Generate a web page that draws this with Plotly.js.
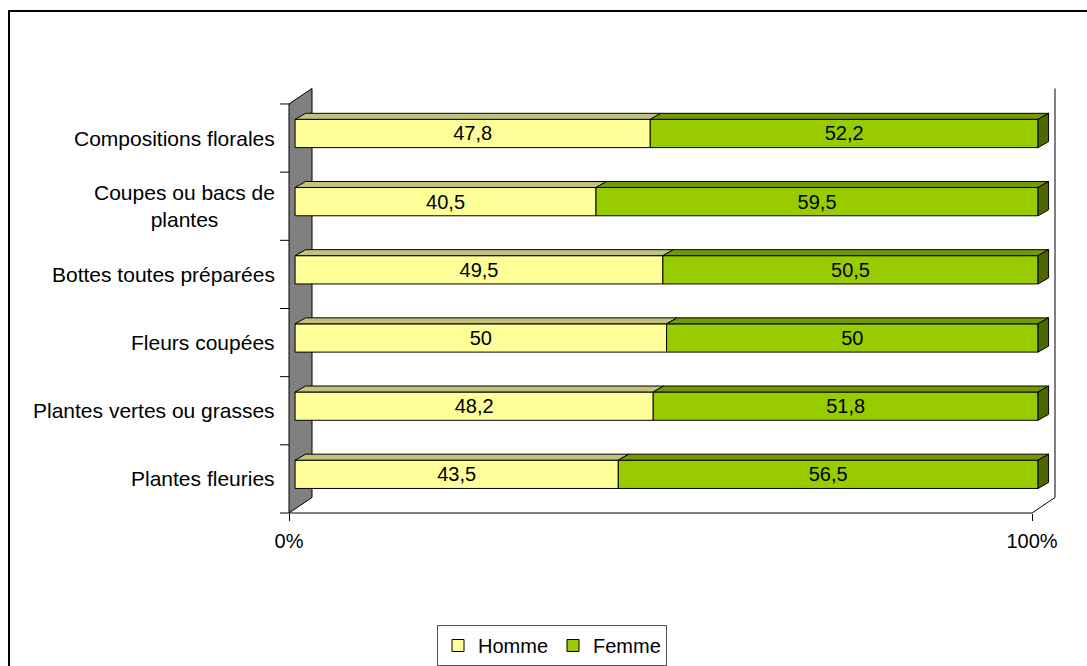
<!DOCTYPE html>
<html>
<head>
<meta charset="utf-8">
<script src="https://cdn.plot.ly/plotly-3.0.1.min.js"></script>
<style>
html,body{margin:0;padding:0;background:#fff;}
#chart{width:1087px;height:666px;}
</style>
</head>
<body>
<div id="chart"></div>
<script>
// ---- data ----
const categories = ['Plantes fleuries', 'Plantes vertes ou grasses', 'Fleurs coupées',
  'Bottes toutes préparées', 'Coupes ou bacs de<br>plantes', 'Compositions florales'];
const homme = [43.5, 48.2, 50, 49.5, 40.5, 47.8];
const femme = [56.5, 51.8, 50, 50.5, 59.5, 52.2];
const seriesNames = ['Homme', 'Femme'];
const xTickVals = [0, 100];
const xTickText = ['0%', '100%'];

// ---- geometry / style ----
const W = 1087, H = 666;
const X0PX = 289, Y0PX = 513;       // pixel position of the floor's front-left corner
const PADL = 14, PADB = 5;          // plot area extends a bit beyond the floor so edges are not clipped
const M = {l: X0PX - PADL, r: 31, t: 87, b: H - Y0PX - PADB, autoexpand: false};
const plotW = W - M.l - M.r, plotH = H - M.t - M.b;
const pxPerX = 7.43, pxPerY = 68.17;
const xMin = -PADL / pxPerX, yMin = -PADB / pxPerY;
const xMax = xMin + plotW / pxPerX, yMax = yMin + plotH / pxPerY;
const OFF = 0.82;          // bar front offset from floor front (x units)
const BAR_LO = 0.36, BAR_HI = 0.775;
const DDX = 10.5 / pxPerX, DDY = 6 / pxPerY;     // bar depth
const WDX = 23 / pxPerX, WDY = 15.5 / pxPerY;    // wall depth
const FONT = '"Liberation Sans", Arial, sans-serif';
const C_H = '#FFFF99', C_H_TOP = '#C2C27A';
const C_F = '#99CC00', C_F_TOP = '#739900', C_F_SIDE = '#4D6600';

const n = categories.length;
const yc = categories.map((c, i) => i + (BAR_LO + BAR_HI) / 2);
const bw = BAR_HI - BAR_LO;
const fmt = v => String(v).replace('.', ',');

const traces = [
  {
    type: 'bar', orientation: 'h', name: seriesNames[0],
    y: yc, x: homme, base: homme.map(() => OFF), width: bw,
    marker: {color: C_H, line: {color: '#000', width: 1}},
    text: homme.map(fmt), textposition: 'inside', insidetextanchor: 'middle',
    constraintext: 'none', textangle: 0,
    textfont: {family: FONT, size: 20, color: '#000'}, hoverinfo: 'skip'
  },
  {
    type: 'bar', orientation: 'h', name: seriesNames[1],
    y: yc, x: femme, base: homme.map(v => v + OFF), width: bw,
    marker: {color: C_F, line: {color: '#000', width: 1}},
    text: femme.map(fmt), textposition: 'inside', insidetextanchor: 'middle',
    constraintext: 'none', textangle: 0,
    textfont: {family: FONT, size: 20, color: '#000'}, hoverinfo: 'skip'
  }
];

const shapes = [];
const poly = pts => 'M' + pts.map(p => p[0] + ',' + p[1]).join(' L') + ' Z';
// back wall (left)
shapes.push({type: 'path', xref: 'x', yref: 'y', layer: 'below',
  path: poly([[0, 0], [0, n], [WDX, n + WDY], [WDX, WDY]]),
  fillcolor: '#808080', line: {color: '#000', width: 1}});
// floor front edge + right edges
shapes.push({type: 'path', xref: 'x', yref: 'y', layer: 'below',
  path: 'M0,0 L100,0 L' + (100 + WDX) + ',' + WDY + ' L' + (100 + WDX) + ',' + (n + WDY),
  line: {color: '#000', width: 1}});
// category separator ticks
for (let i = 0; i <= n; i++) {
  shapes.push({type: 'line', xref: 'x', yref: 'y', x0: -9 / pxPerX, x1: 0, y0: i, y1: i,
    line: {color: '#000', width: 1}});
}
// 3D faces of bars
categories.forEach((c, i) => {
  const top = i + BAR_HI, bot = i + BAR_LO;
  const segs = [[OFF, OFF + homme[i], C_H_TOP], [OFF + homme[i], OFF + homme[i] + femme[i], C_F_TOP]];
  segs.forEach(s => {
    shapes.push({type: 'path', xref: 'x', yref: 'y', layer: 'above',
      path: poly([[s[0], top], [s[1], top], [s[1] + DDX, top + DDY], [s[0] + DDX, top + DDY]]),
      fillcolor: s[2], line: {color: '#000', width: 1}});
  });
  const xe = OFF + homme[i] + femme[i];
  shapes.push({type: 'path', xref: 'x', yref: 'y', layer: 'above',
    path: poly([[xe, bot], [xe, top], [xe + DDX, top + DDY], [xe + DDX, bot + DDY]]),
    fillcolor: C_F_SIDE, line: {color: '#000', width: 1}});
});
// outer frame (left and top borders)
const px2x = px => (px - M.l) / plotW;
const py2y = py => (H - M.b - py) / plotH;
shapes.push({type: 'path', xref: 'paper', yref: 'paper', layer: 'above',
  path: 'M' + px2x(9) + ',' + py2y(700) + ' L' + px2x(9) + ',' + py2y(11) + ' L' + px2x(1100) + ',' + py2y(11),
  line: {color: '#000', width: 2}});

const annotations = categories.map((c, i) => ({
  xref: 'x', yref: 'y', x: 0, y: i + 0.5, xanchor: 'right', yanchor: 'middle',
  xshift: -12, text: c, align: 'center', showarrow: false,
  font: {family: FONT, size: 21, color: '#000'}
}));

const layout = {
  width: W, height: H,
  margin: M,
  paper_bgcolor: '#fff', plot_bgcolor: 'rgba(0,0,0,0)',
  barmode: 'overlay', bargap: 0,
  showlegend: true,
  legend: {
    orientation: 'h', x: px2x(552), y: py2y(625), xanchor: 'center', yanchor: 'top',
    bordercolor: '#555', borderwidth: 1, bgcolor: '#fff',
    font: {family: FONT, size: 20, color: '#000'}, itemwidth: 30, traceorder: 'normal'
  },
  xaxis: {
    range: [xMin, xMax], tickmode: 'array', tickvals: xTickVals, ticktext: xTickText,
    anchor: 'free', position: PADB / plotH,
    ticks: 'outside', ticklen: 7, tickcolor: '#000', tickwidth: 1,
    showgrid: false, zeroline: false, showline: false, fixedrange: true,
    ticklabelstandoff: 3,
    tickfont: {family: FONT, size: 20, color: '#000'}
  },
  yaxis: {
    range: [yMin, yMax], showticklabels: false, ticks: '',
    showgrid: false, zeroline: false, showline: false, fixedrange: true
  },
  shapes: shapes,
  annotations: annotations
};

Plotly.newPlot('chart', traces, layout, {displayModeBar: false, staticPlot: true});
</script>
</body>
</html>
